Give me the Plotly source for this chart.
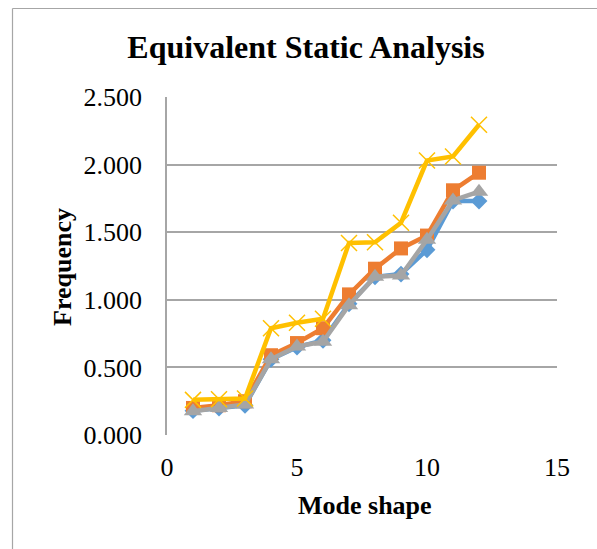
import plotly.graph_objects as go

modes = list(range(1, 13))
series_blue = [0.18, 0.20, 0.22, 0.56, 0.65, 0.70, 0.97, 1.17, 1.19, 1.37, 1.73, 1.73]
series_orange = [0.20, 0.22, 0.25, 0.59, 0.68, 0.79, 1.04, 1.23, 1.38, 1.475, 1.81, 1.94]
series_gray = [0.175, 0.20, 0.225, 0.56, 0.655, 0.69, 0.96, 1.17, 1.18, 1.445, 1.735, 1.80]
series_yellow = [0.26, 0.265, 0.27, 0.79, 0.83, 0.86, 1.42, 1.425, 1.57, 2.03, 2.06, 2.295]
y_ticks = [0.0, 0.5, 1.0, 1.5, 2.0, 2.5]
x_ticks = [0, 5, 10, 15]

W, H = 597, 549
L, R, T, B = 167, 40, 97, 114
PW, PH = W - L - R, H - T - B

fig = go.Figure()
fig.add_trace(go.Scatter(x=modes, y=series_blue, mode="lines+markers",
                         line=dict(color="#5B9BD5", width=4.5),
                         marker=dict(symbol="diamond", size=13, color="#5B9BD5")))
fig.add_trace(go.Scatter(x=modes, y=series_orange, mode="lines+markers",
                         line=dict(color="#ED7D31", width=4.5),
                         marker=dict(symbol="square", size=14, color="#ED7D31")))
fig.add_trace(go.Scatter(x=modes, y=series_gray, mode="lines+markers",
                         line=dict(color="#A5A5A5", width=4.5),
                         marker=dict(symbol="triangle-up", size=16, color="#A5A5A5")))
fig.add_trace(go.Scatter(x=modes, y=series_yellow, mode="lines+markers",
                         line=dict(color="#FFC000", width=4.5),
                         marker=dict(symbol="x-thin-open", size=16,
                                     line=dict(color="#FFC000", width=1.5))))

font_family = "Liberation Serif, Times New Roman, serif"

fig.update_layout(
    width=W, height=H,
    margin=dict(l=L, r=R, t=T, b=B),
    paper_bgcolor="white", plot_bgcolor="white",
    showlegend=False,
    font=dict(family=font_family, color="black"),
    title=dict(text="<b>Equivalent Static Analysis</b>", xref="container", yref="container",
               x=306 / W, y=1 - 47 / H, xanchor="center", yanchor="middle",
               font=dict(size=32, family=font_family, color="black")),
    xaxis=dict(range=[0, 15], tickvals=x_ticks, ticktext=[str(v) for v in x_ticks],
               showgrid=False, zeroline=False, showline=False, ticks="",
               tickfont=dict(size=26, family=font_family, color="black"),
               ticklabelstandoff=14, fixedrange=True),
    yaxis=dict(range=[0, 2.5], tickvals=y_ticks, ticktext=[f"{v:.3f}" for v in y_ticks],
               showgrid=True, gridcolor="#A6A6A6", gridwidth=1.5, zeroline=False,
               showline=True, linecolor="#A6A6A6", linewidth=1.5, ticks="",
               tickfont=dict(size=26, family=font_family, color="black"),
               ticklabelstandoff=18, fixedrange=True),
    annotations=[
        dict(text="<b>Mode shape</b>", xref="paper", yref="paper",
             x=(365 - L) / PW, y=(H - B - 505) / PH, xanchor="center", yanchor="middle",
             showarrow=False, font=dict(size=26, family=font_family, color="black")),
        dict(text="<b>Frequency</b>", xref="paper", yref="paper", textangle=-90,
             x=(62 - L) / PW, y=(H - B - 267) / PH, xanchor="center", yanchor="middle",
             showarrow=False, font=dict(size=26, family=font_family, color="black")),
    ],
    shapes=[
        dict(type="line", xref="paper", yref="paper",
             x0=(12.5 - L) / PW, x1=(W + 5 - L) / PW,
             y0=(H - B - 8.5) / PH, y1=(H - B - 8.5) / PH,
             line=dict(color="#A6A6A6", width=1.2)),
        dict(type="line", xref="paper", yref="paper",
             x0=(12.5 - L) / PW, x1=(12.5 - L) / PW,
             y0=(H - B - 8.5) / PH, y1=(H - B - H - 5) / PH,
             line=dict(color="#A6A6A6", width=1.2)),
    ],
)

fig.write_html("out.html")
